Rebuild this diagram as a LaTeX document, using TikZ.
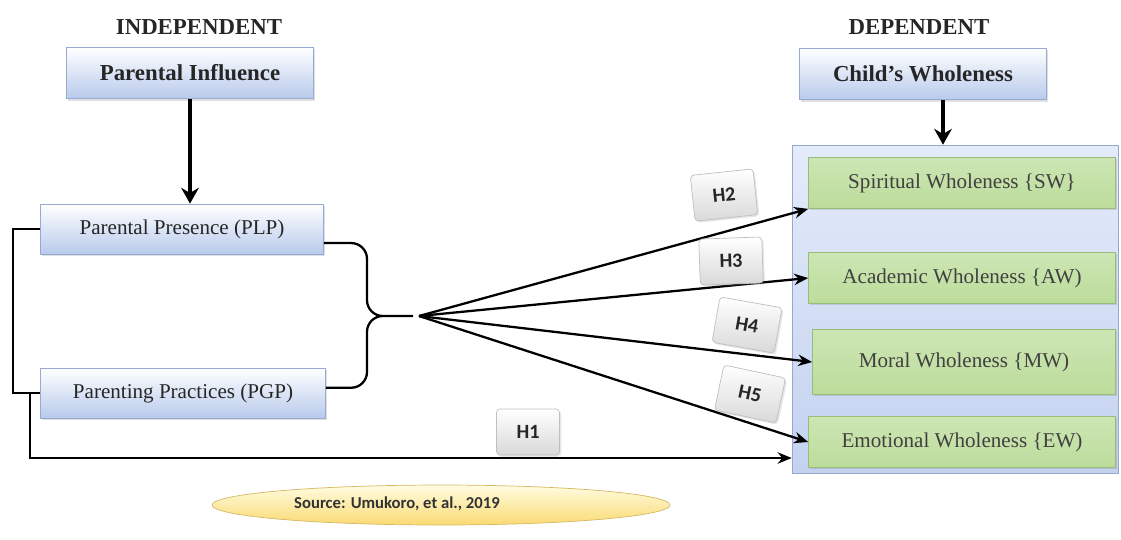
\documentclass[tikz,border=0pt]{standalone}
\usepackage{fontspec}
\setmainfont{Liberation Serif}
\newfontfamily\calib{Carlito}
\usepackage{tikz}
\usetikzlibrary{arrows,arrows.meta}
\usetikzlibrary{shapes,shapes.geometric}
\usetikzlibrary{calc,positioning,shadows}
\definecolor{bxline}{RGB}{150,170,210}
\definecolor{bxblue}{RGB}{184,202,236}
\definecolor{grline}{RGB}{150,190,120}
\definecolor{grtop}{RGB}{205,230,180}
\definecolor{grbot}{RGB}{188,220,155}
\definecolor{ctline}{RGB}{150,168,205}
\definecolor{cttop}{RGB}{228,235,250}
\definecolor{ctbot}{RGB}{196,210,240}
\definecolor{yltop}{RGB}{255,252,225}
\definecolor{ylbot}{RGB}{250,218,115}

\begin{document}
\begin{tikzpicture}[x=0.02cm,y=-0.02cm,
	bluebox/.style={draw=bxline,top color=white,bottom color=bxblue,minimum height=1cm,text=black!85,
		font=\fontsize{12}{14}\selectfont,drop shadow={opacity=.25,shadow xshift=1pt,shadow yshift=-1pt}},
	headbox/.style={bluebox,minimum width=4.94cm,minimum height=1.03cm,font=\bfseries\fontsize{13}{15}\selectfont},
	greenbox/.style={draw=grline,top color=grtop,middle color=white!85!grtop,bottom color=grbot,minimum width=6.14cm,
		minimum height=1.02cm,text=black!75,font=\fontsize{12}{14}\selectfont,drop shadow={opacity=.25,shadow xshift=1pt,shadow yshift=-1pt}},
	hbox/.style={draw=gray!50,rounded corners=2pt,top color=white,bottom color=gray!30,minimum width=1.26cm,minimum height=.92cm,
		text=black!85,font=\calib\bfseries\fontsize{11.5}{13}\selectfont,drop shadow={opacity=.2,shadow xshift=1pt,shadow yshift=-1pt}},
	title/.style={font=\bfseries\fontsize{13}{15}\selectfont,text=black!85},
	arr/.style={-{Stealth[length=8pt,width=6.5pt]},line width=1.3pt},
	bigarr/.style={-{Stealth[length=9pt,width=10pt]},line width=2.4pt}]
	\useasboundingbox (0,0) rectangle (1121,539);
	% left side: independent
	\node[title] (indep) at (199,27) {INDEPENDENT};
	\node[headbox] (pi) at (190,73) {Parental Influence};
	\node[bluebox,minimum width=5.66cm] (plp) at (182,229) {Parental Presence (PLP)};
	\node[bluebox,minimum width=5.7cm] (pgp) at (183,393) {Parenting Practices (PGP)};
	\draw[bigarr] (pi.south)--(pi.south |- plp.north);
	% right side: dependent
	\node[title] (dep) at (919,27) {DEPENDENT};
	\node[headbox] (cw) at (923,74) {Child's Wholeness};
	\node[draw=ctline,top color=cttop,bottom color=ctbot,minimum width=6.52cm,minimum height=6.56cm] (cont) at (955,309) {};
	\draw[bigarr] ([xshift=.4cm]cw.south)--([xshift=.4cm]cw.south |- cont.north);
	\node[greenbox] (sw) at (962,183) {Spiritual Wholeness \{SW\}};
	\node[greenbox] (aw) at (962,278) {Academic Wholeness \{AW)};
	\node[greenbox,minimum height=1.3cm,minimum width=6.06cm] (mw) at (964,362) {Moral Wholeness \{MW)};
	\node[greenbox] (ew) at (962,442) {Emotional Wholeness \{EW)};
	% brackets and fan
	\path (367,316) coordinate (bend) (413,316) coordinate (join) (419,316) coordinate (hub);
	\draw[line width=1.3pt] (plp.west)--++(-27,0)|-(pgp.west);
	\draw[rounded corners=9pt,line width=1.3pt] ([yshift=-8pt]plp.east)-|(bend)--(join) ([yshift=3pt]pgp.east)-|(bend)--(join);
	\foreach \t in {sw.south west,aw.west,mw.west,ew.west} \draw[arr] (hub)--(\t);
	\draw[arr] ([xshift=-.2cm]pgp.west)|-($(ew.west -| cont.west)+(0,16)$);
	% hypothesis labels
	\foreach \n/\p/\r in {2/{724,195}/6,3/{731,261}/2,4/{747,325}/-10,5/{750,394}/-12,1/{528,432}/0}
		\node[hbox,rotate=\r] (h\n) at (\p) {H\n};
	% source
	\node[draw=ylbot!85!black,top color=yltop,bottom color=ylbot,ellipse,minimum width=9.16cm,minimum height=.8cm] (src) at (441,505) {};
	\node[font=\calib\bfseries\fontsize{9.5}{11}\selectfont,text=black!80] (srctxt) at (397,504) {Source: Umukoro, et al., 2019};
\end{tikzpicture}
\end{document}
